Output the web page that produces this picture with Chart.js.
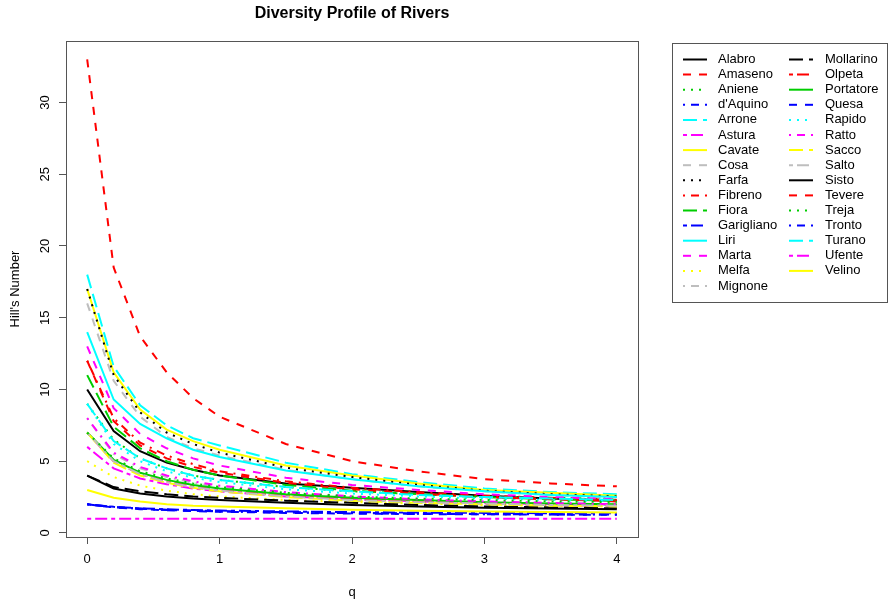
<!DOCTYPE html>
<html>
<head>
<meta charset="utf-8">
<script src="https://cdn.jsdelivr.net/npm/chart.js@4/dist/chart.umd.min.js"></script>
<style>
  body { margin: 0; background: #fff; }
  canvas { display: block; }
</style>
</head>
<body>
<canvas id="chart" width="889" height="601"></canvas>
<script>
// Valores de q (orden del número de Hill)
var q = [0, 0.2, 0.4, 0.6, 0.8, 1, 1.5, 2, 2.5, 3, 3.5, 4];

// Nombres de los ríos, en el orden de la leyenda
var rios = ["Alabro", "Amaseno", "Aniene", "d'Aquino", "Arrone", "Astura", "Cavate", "Cosa",
  "Farfa", "Fibreno", "Fiora", "Garigliano", "Liri", "Marta", "Melfa", "Mignone",
  "Mollarino", "Olpeta", "Portatore", "Quesa", "Rapido", "Ratto", "Sacco", "Salto",
  "Sisto", "Tevere", "Treja", "Tronto", "Turano", "Ufente", "Velino"];

// Perfiles de diversidad
var alabro     = [10, 7.1, 5.7, 4.9, 4.4, 4.0, 3.45, 3.15, 2.85, 2.6, 2.4, 2.25];
var amaseno    = [33, 18.5, 13.7, 11.2, 9.4, 8.1, 6.2, 5.0, 4.3, 3.75, 3.45, 3.25];
var aniene     = [9, 6.5, 5.2, 4.5, 4.0, 3.7, 3.2, 2.9, 2.7, 2.55, 2.45, 2.4];
var daquino    = [2, 1.8, 1.7, 1.62, 1.56, 1.52, 1.45, 1.4, 1.36, 1.33, 1.31, 1.3];
var arrone     = [18, 11.6, 8.9, 7.5, 6.6, 6.1, 4.9, 4.1, 3.55, 3.1, 2.85, 2.7];
var astura     = [6, 4.5, 3.8, 3.4, 3.1, 2.9, 2.55, 2.35, 2.2, 2.1, 2.0, 1.95];
var cavate     = [17, 11.2, 8.6, 7.2, 6.4, 5.8, 4.7, 4.0, 3.45, 3.0, 2.8, 2.6];
var cosa       = [16, 10.6, 8.1, 6.7, 5.9, 5.4, 4.4, 3.75, 3.25, 2.9, 2.65, 2.45];
var farfa      = [17, 11.0, 8.4, 7.0, 6.2, 5.6, 4.55, 3.9, 3.35, 2.95, 2.7, 2.55];
var fibreno    = [12, 8.0, 6.3, 5.4, 4.8, 4.3, 3.6, 3.15, 2.85, 2.6, 2.45, 2.3];
var fiora      = [11, 7.4, 5.9, 5.0, 4.4, 4.0, 3.35, 2.95, 2.7, 2.5, 2.35, 2.25];
var garigliano = [2, 1.82, 1.72, 1.65, 1.6, 1.56, 1.5, 1.45, 1.42, 1.4, 1.38, 1.37];
var liri       = [14, 9.3, 7.6, 6.6, 5.8, 5.3, 4.35, 3.75, 3.25, 2.9, 2.65, 2.5];
var marta      = [13, 8.7, 6.9, 5.9, 5.2, 4.7, 3.85, 3.35, 3.0, 2.7, 2.5, 2.35];
var melfa      = [5, 3.9, 3.3, 2.95, 2.7, 2.55, 2.3, 2.15, 2.05, 1.95, 1.9, 1.85];
var mignone    = [8, 5.5, 4.5, 3.9, 3.5, 3.2, 2.75, 2.5, 2.3, 2.15, 2.05, 1.95];
var mollarino  = [4, 3.2, 2.9, 2.7, 2.55, 2.45, 2.25, 2.1, 1.95, 1.85, 1.78, 1.72];
var olpeta     = [7, 5.0, 4.1, 3.6, 3.25, 3.0, 2.6, 2.35, 2.2, 2.05, 1.95, 1.9];
var portatore  = [7, 5.1, 4.2, 3.7, 3.35, 3.1, 2.7, 2.45, 2.3, 2.15, 2.05, 2.0];
var quesa      = [2, 1.78, 1.66, 1.58, 1.52, 1.48, 1.4, 1.35, 1.32, 1.3, 1.28, 1.27];
var rapido     = [9, 6.2, 5.0, 4.3, 3.85, 3.55, 3.05, 2.75, 2.55, 2.4, 2.3, 2.2];
var ratto      = [8, 5.6, 4.6, 4.0, 3.6, 3.3, 2.85, 2.55, 2.35, 2.2, 2.1, 2.0];
var sacco      = [7, 4.9, 4.0, 3.5, 3.15, 2.9, 2.5, 2.25, 2.1, 2.0, 1.9, 1.85];
var salto      = [7, 5.0, 4.1, 3.55, 3.2, 2.95, 2.55, 2.3, 2.15, 2.05, 1.95, 1.9];
var sisto      = [4, 3.1, 2.75, 2.55, 2.4, 2.3, 2.1, 1.95, 1.85, 1.75, 1.7, 1.65];
var tevere     = [12, 7.8, 6.1, 5.2, 4.6, 4.2, 3.5, 3.05, 2.75, 2.5, 2.35, 2.2];
var treja      = [7, 5.2, 4.3, 3.8, 3.45, 3.2, 2.8, 2.55, 2.4, 2.3, 2.2, 2.15];
var tronto     = [2, 1.8, 1.69, 1.6, 1.55, 1.5, 1.43, 1.38, 1.34, 1.31, 1.29, 1.28];
var turano     = [9, 6.4, 5.2, 4.5, 4.0, 3.7, 3.2, 2.9, 2.65, 2.5, 2.4, 2.3];
var ufente     = [1, 1, 1, 1, 1, 1, 1, 1, 1, 1, 1, 1];
var velino     = [3, 2.45, 2.2, 2.0, 1.9, 1.85, 1.72, 1.62, 1.55, 1.5, 1.46, 1.43];

var valores = [alabro, amaseno, aniene, daquino, arrone, astura, cavate, cosa,
  farfa, fibreno, fiora, garigliano, liri, marta, melfa, mignone,
  mollarino, olpeta, portatore, quesa, rapido, ratto, sacco, salto,
  sisto, tevere, treja, tronto, turano, ufente, velino];

var ticksX = [0, 1, 2, 3, 4];
var ticksY = [0, 5, 10, 15, 20, 25, 30];

// Paleta y tipos de línea al estilo de R (col = 1:8, lty = 1:6)
var paleta = ["#000000", "#FF0000", "#00CD00", "#0000FF", "#00FFFF", "#FF00FF", "#FFFF00", "#BEBEBE"];
var tipos = [[], [8, 8], [2, 6], [2, 6, 8, 6], [14, 6], [4, 4, 12, 4]];
var fuente = "'Liberation Sans', Arial, sans-serif";

var datasets = rios.map(function(nombre, i) {
  return {
    label: nombre,
    data: q.map(function(x, j) { return { x: x, y: valores[i][j] }; }),
    borderColor: paleta[i % 8],
    borderDash: tipos[i % 6],
    borderWidth: 2,
    pointRadius: 0,
    tension: 0,
    fill: false,
    order: rios.length - i
  };
});

// Plugin para los textos, el marco y la leyenda al estilo R
var estiloR = {
  id: "estiloR",
  afterDraw: function(chart) {
    var ctx = chart.ctx;
    var area = chart.chartArea;
    var sy = chart.scales.y;
    ctx.save();

    // marco del gráfico
    ctx.strokeStyle = "#555";
    ctx.lineWidth = 1;
    ctx.setLineDash([]);
    ctx.strokeRect(area.left + 0.5, area.top + 0.5, area.right - area.left, area.bottom - area.top);

    ctx.fillStyle = "#000";
    // título
    ctx.font = "bold 16px " + fuente;
    ctx.textAlign = "center";
    ctx.textBaseline = "middle";
    ctx.fillText("Diversity Profile of Rivers", (area.left + area.right) / 2, 14);

    // títulos de ejes
    ctx.font = "13px " + fuente;
    ctx.fillText("q", (area.left + area.right) / 2, 592);
    ctx.save();
    ctx.translate(15, (area.top + area.bottom) / 2);
    ctx.rotate(-Math.PI / 2);
    ctx.fillText("Hill's Number", 0, 0);
    ctx.restore();

    // etiquetas del eje y giradas
    ticksY.forEach(function(v) {
      ctx.save();
      ctx.translate(45, sy.getPixelForValue(v));
      ctx.rotate(-Math.PI / 2);
      ctx.fillText(String(v), 0, 0);
      ctx.restore();
    });

    // leyenda en dos columnas
    ctx.strokeStyle = "#555";
    ctx.strokeRect(672.5, 43.5, 215, 259);
    ctx.textAlign = "left";
    chart.data.datasets.forEach(function(ds, i) {
      var col = i < 16 ? 0 : 1;
      var fila = i % 16;
      var y = 59.5 + fila * 15.1;
      var x0 = col ? 789 : 683;
      ctx.beginPath();
      ctx.strokeStyle = ds.borderColor;
      ctx.lineWidth = 2;
      ctx.setLineDash(ds.borderDash);
      ctx.moveTo(x0, y);
      ctx.lineTo(x0 + 24, y);
      ctx.stroke();
      ctx.setLineDash([]);
      ctx.fillStyle = "#000";
      ctx.fillText(ds.label, col ? 825 : 718, y);
    });
    ctx.restore();
  }
};

var chart = new Chart("chart", {
  type: "line",
  data: { datasets: datasets },
  options: {
    responsive: false,
    animation: false,
    layout: { padding: { left: 0, right: 251, top: 41, bottom: 0 } },
    plugins: { legend: { display: false }, title: { display: false }, tooltip: { enabled: false } },
    scales: {
      x: {
        type: "linear",
        min: -0.16,
        max: 4.16,
        afterBuildTicks: function(s) { s.ticks = ticksX.map(function(v) { return { value: v }; }); },
        afterFit: function(s) { s.height = 64; },
        grid: { drawOnChartArea: false, drawTicks: true, tickLength: 7, color: "#555" },
        border: { display: true, color: "#555" },
        ticks: { color: "#000", padding: 8, maxRotation: 0, font: { family: fuente, size: 13 } }
      },
      y: {
        type: "linear",
        min: -0.28,
        max: 34.28,
        afterBuildTicks: function(s) { s.ticks = ticksY.map(function(v) { return { value: v }; }); },
        afterFit: function(s) { s.width = 66; },
        grid: { drawOnChartArea: false, drawTicks: true, tickLength: 7, color: "#555" },
        border: { display: true, color: "#555" },
        ticks: { color: "rgba(0,0,0,0)", font: { family: fuente, size: 13 } }
      }
    }
  },
  plugins: [estiloR]
});
</script>
</body>
</html>
